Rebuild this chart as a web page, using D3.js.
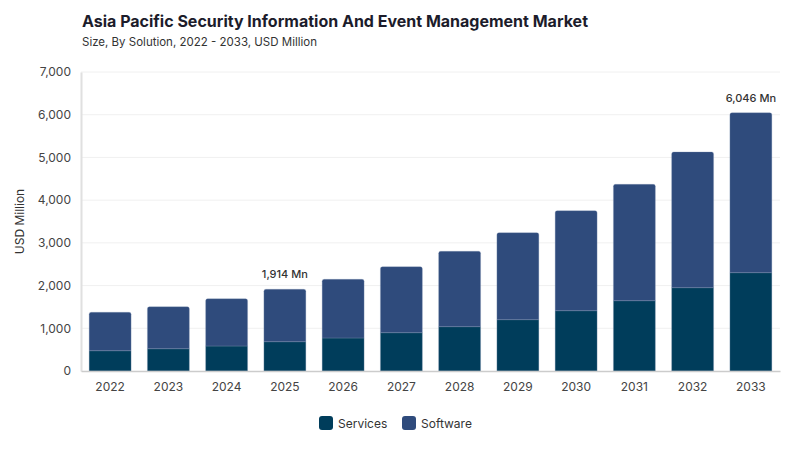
<!DOCTYPE html>
<html><head><meta charset="utf-8">
<script src="https://cdn.jsdelivr.net/npm/d3@7/dist/d3.min.js"></script>
<style>body{margin:0;background:#fff;}svg{display:block;font-family:Inter,"Noto Sans",sans-serif;}</style>
</head><body>
<svg id="c" width="800" height="450"></svg>
<script>
const years = ["2022","2023","2024","2025","2026","2027","2028","2029","2030","2031","2032","2033"];
const services = [475,522,585,686,773,897,1038,1202,1412,1646,1951,2302];
const software = [900,984,1108,1228,1374,1546,1765,2037,2342,2724,3178,3744];
const seriesNames = ["Services","Software"];
const seriesColors = ["#003d5b","#2f4b7c"];
const yTicks = [0,1000,2000,3000,4000,5000,6000,7000];
const annotated = ["2025","2033"];
const annotTotals = {"2025":1914,"2033":6046};

const svg = d3.select("#c");
const m = {l:81, r:20, t:72, b:79};
const W = 800, H = 450;
const x = d3.scaleBand().domain(years).range([m.l, W-m.r]).paddingInner(0.28).paddingOuter(0.14);
const y = d3.scaleLinear().domain([0,7000]).range([H-m.b, m.t]);

// title
svg.append("text").attr("x",82).attr("y",27).attr("font-size",16).attr("font-weight",700).attr("fill","#1c1c2b").text("Asia Pacific Security Information And Event Management Market");
svg.append("text").attr("x",82).attr("y",46).attr("font-size",11.5).attr("fill","#333").text("Size, By Solution, 2022 - 2033, USD Million");

// grid
svg.append("g").selectAll("line").data(yTicks.slice(1)).join("line")
  .attr("x1",m.l).attr("x2",W-m.r).attr("y1",d=>y(d)).attr("y2",d=>y(d))
  .attr("stroke","#f0f0f0").attr("stroke-width",1);

// y axis
const ya = svg.append("g").attr("transform",`translate(${m.l},0)`)
  .call(d3.axisLeft(y).tickValues(yTicks).tickFormat(d3.format(",")).tickSize(0).tickPadding(10));
ya.select(".domain").attr("stroke","#e0e0e0").attr("stroke-width",2);
ya.selectAll("text").attr("font-size",12).attr("fill","#444").attr("font-family","Inter,sans-serif");

svg.append("text").attr("transform",`translate(24,${(y(0)+y(7000))/2}) rotate(-90)`)
  .attr("text-anchor","middle").attr("font-size",12).attr("fill","#333").text("USD Million");

// stacked bars
const rows = years.map((yr,i)=>({year:yr, Services:services[i], Software:software[i]}));
const stack = d3.stack().keys(seriesNames)(rows);
const g = svg.append("g");
stack.forEach((s,si)=>{
  g.append("g").selectAll("path").data(s).join("path")
    .attr("d",d=>{
      const x0 = x(d.data.year), w = x.bandwidth();
      const yt = y(d[1]), yb = y(d[0]);
      const r = si===1 ? 2 : 0;
      return `M${x0},${yb}V${yt+r}Q${x0},${yt} ${x0+r},${yt}H${x0+w-r}Q${x0+w},${yt} ${x0+w},${yt+r}V${yb}Z`;
    })
    .attr("fill",seriesColors[si]).attr("stroke","#8a9bb8").attr("stroke-width",0.5).attr("stroke-opacity",0.6);
});

// x axis
const xa = svg.append("g").attr("transform",`translate(0,${y(0)})`)
  .call(d3.axisBottom(x).tickSize(0).tickPadding(11));
xa.select(".domain").attr("stroke","#ccc").attr("stroke-width",1.5);
xa.selectAll("text").attr("font-size",12).attr("fill","#444").attr("font-family","Inter,sans-serif");

// annotations
svg.append("g").selectAll("text").data(annotated).join("text")
  .attr("x",d=>x(d)+x.bandwidth()/2).attr("y",d=>y(annotTotals[d])-11)
  .attr("text-anchor","middle").attr("font-size",11).attr("font-weight",500).attr("fill","#333")
  .text(d=>d3.format(",")(annotTotals[d])+" Mn");

// legend
const leg = svg.append("g").attr("transform","translate(319,416)");
const lx = [0,83];
seriesNames.forEach((n,i)=>{
  const gg = leg.append("g").attr("transform",`translate(${lx[i]},0)`);
  gg.append("rect").attr("width",14).attr("height",14).attr("rx",3).attr("fill",seriesColors[i]);
  gg.append("text").attr("x",19).attr("y",11.5).attr("font-size",12).attr("fill","#333").text(n);
});
</script>
</body></html>
